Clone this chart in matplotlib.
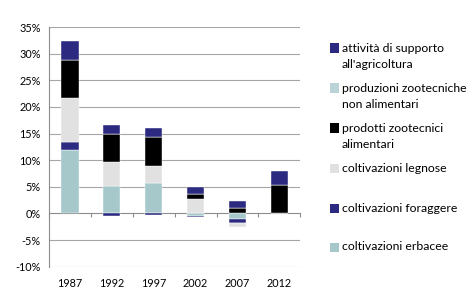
import matplotlib
matplotlib.use("Agg")
import matplotlib.pyplot as plt
import numpy as np
from matplotlib.patches import Rectangle

plt.rcParams['font.family'] = ['Lato', 'DejaVu Sans']

years = ["1987", "1992", "1997", "2002", "2007", "2012"]

# valori in punti percentuali
erbacee = [11.9, 5.2, 5.75, -0.5, -1.1, 0.0]
foraggere = [1.6, -0.5, -0.35, -0.2, -0.7, 0.0]
legnose = [8.1, 4.5, 3.25, 2.7, -0.7, 0.0]
zoo_alimentari = [7.3, 5.3, 5.4, 0.9, 1.05, 5.3]
zoo_non_alimentari = [0.0, 0.0, 0.0, 0.0, 0.0, 0.0]
supporto = [3.4, 1.6, 1.7, 1.3, 1.2, 2.7]

series = [
    ("coltivazioni erbacee", erbacee, "#A6C8CB"),
    ("coltivazioni foraggere", foraggere, "#2B2A80"),
    ("coltivazioni legnose", legnose, "#E1E1E1"),
    ("prodotti zootecnici\nalimentari", zoo_alimentari, "#000000"),
    ("produzioni zootecniche\nnon alimentari", zoo_non_alimentari, "#B9D3D6"),
    ("attività di supporto\nall'agricoltura", supporto, "#2B2A80"),
]

fig = plt.figure(figsize=(4.69, 2.89), dpi=100)
ax = fig.add_axes([0.1045, 0.077, 0.536, 0.8295])

x = np.arange(len(years))
pos_bottom = np.zeros(len(years))
neg_bottom = np.zeros(len(years))
for label, vals, color in series:
    v = np.array(vals, dtype=float)
    bottom = np.where(v >= 0, pos_bottom, neg_bottom)
    ax.bar(x, v, width=0.41, bottom=bottom, color=color,
           edgecolor="white", linewidth=0.3, zorder=3)
    pos_bottom += np.where(v > 0, v, 0)
    neg_bottom += np.where(v < 0, v, 0)

ax.set_xlim(-0.5, len(years) - 0.5)
ax.set_ylim(-10, 35)
yt = np.arange(-10, 36, 5)
ax.set_yticks(yt)
ax.set_yticklabels([f"{t}%" for t in yt], fontsize=7.8)
for t in yt:
    if t != 0:
        ax.axhline(t, color="#A6A6A6", linewidth=0.8, zorder=1)
ax.tick_params(axis="y", length=0, pad=6)

ax.set_xticks(x)
ax.set_xticklabels(years, fontsize=7.8)
ax.tick_params(axis="x", length=0, pad=8)

for s in ["top", "right", "bottom"]:
    ax.spines[s].set_visible(False)
ax.spines["left"].set_color("#8C8C8C")
ax.spines["left"].set_linewidth(0.8)

# asse delle categorie sullo zero
zero_pos = (0 - (-10)) / 45
sec = ax.secondary_xaxis(zero_pos)
sec.set_xticks(np.arange(-0.5, len(years), 1.0))
sec.set_xticklabels([])
sec.tick_params(axis="x", direction="out", length=3, color="#8C8C8C", width=0.8)
sec.spines["bottom"].set_color("#8C8C8C")
sec.spines["bottom"].set_linewidth(0.8)
sec.xaxis.set_ticks_position("bottom")

# legenda
H = 289.0
W = 469.0
leg_y = [48, 88, 128, 168, 208, 247]
for (label, vals, color), yy in zip(series[::-1], leg_y):
    fig.patches.append(Rectangle((330 / W, 1 - (yy + 4.5) / H), 9 / W, 9 / H,
                                 transform=fig.transFigure, facecolor=color,
                                 edgecolor="none"))
    for i, line in enumerate(label.split("\n")):
        fig.text(342 / W, 1 - (yy + 16 * i) / H, line, fontsize=8.8,
                 va="center", ha="left")

fig.savefig("out.png", dpi=100)
